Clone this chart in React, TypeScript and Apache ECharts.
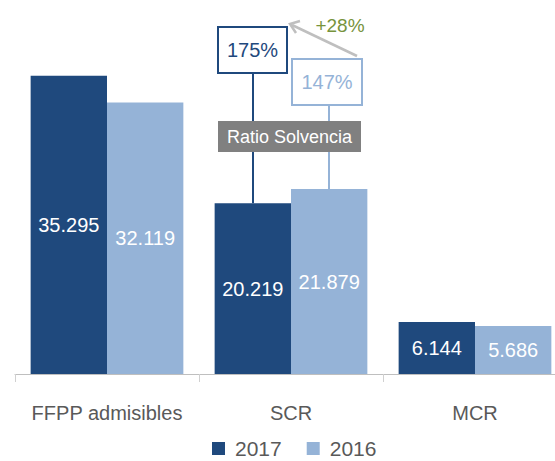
import React, { useEffect, useRef } from "react";
import * as echarts from "echarts";

const categories = ["FFPP admisibles", "SCR", "MCR"];
const values2017 = [35295, 20219, 6144];
const values2016 = [32119, 21879, 5686];
const seriesNames = ["2017", "2016"];
const ratioLabels = ["175%", "147%"];
const ratioTitle = "Ratio Solvencia";
const changeLabel = "+28%";

const DARK = "#1F497D";
const LIGHT = "#95B3D7";
const FONT = "'Liberation Sans Narrow', 'Liberation Sans', Arial, sans-serif";

const fmt = (v: number) => {
  const s = Math.round(v).toString();
  return s.replace(/\B(?=(\d{3})+(?!\d))/g, ".");
};

export default function App() {
  const ref = useRef<HTMLDivElement>(null);
  useEffect(() => {
    if (!ref.current) return;
    const chart = echarts.init(ref.current, undefined, { renderer: "svg" });
    const labelStyle = {
      show: true,
      position: "inside" as const,
      color: "#ffffff",
      fontSize: 20,
      fontFamily: FONT,
      formatter: (p: any) => fmt(p.value),
    };
    chart.setOption({
      animation: false,
      textStyle: { fontFamily: FONT },
      grid: {
        left: 15,
        width: 552,
        top: 36,
        bottom: 87,
        containLabel: false,
        outerBoundsMode: "none",
      },
      legend: {
        left: 212,
        top: 438,
        padding: 0,
        itemWidth: 13,
        itemHeight: 13,
        itemGap: 25,
        icon: "rect",
        textStyle: {
          fontSize: 21,
          lineHeight: 21,
          color: "#595959",
          fontFamily: FONT,
          padding: [0, 0, 0, 5],
        },
        data: seriesNames,
      },
      xAxis: {
        type: "category",
        data: categories,
        axisLine: { lineStyle: { color: "#BFBFBF", width: 1 } },
        axisTick: { show: true, length: 8, lineStyle: { color: "#D0D0D0" } },
        axisLabel: { color: "#595959", fontSize: 20, margin: 29, interval: 0, fontFamily: FONT },
      },
      yAxis: {
        type: "value",
        min: 0,
        max: 40000,
        show: false,
        splitLine: { show: false },
      },
      series: [
        {
          name: seriesNames[0],
          type: "bar",
          data: values2017,
          itemStyle: { color: DARK },
          barGap: "0%",
          barCategoryGap: "17%",
          label: labelStyle,
        },
        {
          name: seriesNames[1],
          type: "bar",
          data: values2016,
          itemStyle: { color: LIGHT },
          label: labelStyle,
        },
      ],
    });

    const p17 = chart.convertToPixel({ seriesIndex: 0 }, [1, values2017[1]]) as number[];
    const p16 = chart.convertToPixel({ seriesIndex: 1 }, [1, values2016[1]]) as number[];
    const cat = chart.convertToPixel({ xAxisIndex: 0 }, 1) as unknown as number;
    const half = 38;
    const x17 = cat - half;
    const x16 = cat + half;

    const box17 = { x: 218, y: 27, w: 69, h: 46 };
    const box16 = { x: 292, y: 59, w: 70, h: 46 };
    const gray = { x: 218, y: 121, w: 143, h: 31 };

    chart.setOption({
      graphic: [
        {
          type: "line",
          shape: { x1: x17, y1: box17.y + box17.h, x2: x17, y2: p17[1] },
          style: { stroke: DARK, lineWidth: 2 },
        },
        {
          type: "line",
          shape: { x1: x16, y1: box16.y + box16.h, x2: x16, y2: p16[1] },
          style: { stroke: LIGHT, lineWidth: 2 },
        },
        {
          type: "rect",
          shape: { x: box17.x, y: box17.y, width: box17.w, height: box17.h },
          style: { fill: "#ffffff", stroke: DARK, lineWidth: 2 },
        },
        {
          type: "text",
          x: box17.x + box17.w / 2,
          y: box17.y + box17.h / 2,
          style: {
            text: ratioLabels[0],
            fill: DARK,
            fontSize: 20,
            fontFamily: FONT,
            align: "center",
            verticalAlign: "middle",
          },
        },
        {
          type: "rect",
          shape: { x: box16.x, y: box16.y, width: box16.w, height: box16.h },
          style: { fill: "#ffffff", stroke: LIGHT, lineWidth: 2 },
        },
        {
          type: "text",
          x: box16.x + box16.w / 2,
          y: box16.y + box16.h / 2,
          style: {
            text: ratioLabels[1],
            fill: LIGHT,
            fontSize: 20,
            fontFamily: FONT,
            align: "center",
            verticalAlign: "middle",
          },
        },
        {
          type: "rect",
          shape: { x: gray.x, y: gray.y, width: gray.w, height: gray.h },
          style: { fill: "#808080" },
        },
        {
          type: "text",
          x: gray.x + gray.w / 2,
          y: gray.y + gray.h / 2,
          style: {
            text: ratioTitle,
            fill: "#ffffff",
            fontSize: 18,
            fontFamily: FONT,
            align: "center",
            verticalAlign: "middle",
          },
        },
        {
          type: "line",
          shape: { x1: 357, y1: 56, x2: 292, y2: 25 },
          style: { stroke: "#BFBFBF", lineWidth: 2.5 },
        },
        {
          type: "polyline",
          shape: { points: [[300, 21], [290, 24], [296, 33]] },
          style: { stroke: "#BFBFBF", lineWidth: 2.5, fill: "none" },
        },
        {
          type: "text",
          x: 340,
          y: 25,
          style: {
            text: changeLabel,
            fill: "#77933C",
            fontSize: 19,
            fontFamily: FONT,
            align: "center",
            verticalAlign: "middle",
          },
        },
      ],
    });

    return () => chart.dispose();
  }, []);
  return <div ref={ref} style={{ width: 555, height: 461, position: "absolute", left: 0, top: 0 }} />;
}
